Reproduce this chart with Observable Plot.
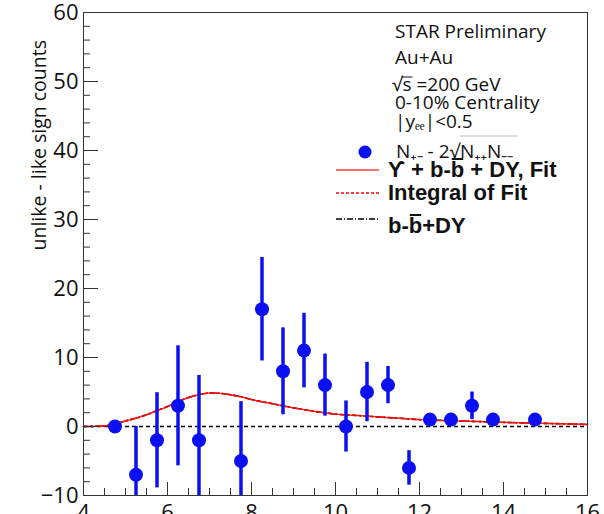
<!DOCTYPE html>
<html><head><meta charset="utf-8">
<script src="https://cdn.jsdelivr.net/npm/d3@7"></script>
<script src="https://cdn.jsdelivr.net/npm/@observablehq/plot@0.6"></script>
<style>body{margin:0;background:#fff} svg{display:block}</style>
</head><body><div id="chart"></div>
<script>
// Data points: invariant mass bin centres, unlike - like sign counts, errors
const massX  = [4.75, 5.25, 5.75, 6.25, 6.75, 7.75, 8.25, 8.75, 9.25, 9.75, 10.25, 10.75, 11.25, 11.75, 12.25, 12.75, 13.25, 13.75, 14.75];
const counts = [0, -7, -2, 3, -2, -5, 17, 8, 11, 6, 0, 5, 6, -6, 1, 1, 3, 1, 1];
const errors = [0.6, 7, 6.9, 8.7, 9.4, 8.6, 7.5, 6.3, 5.4, 4.5, 3.7, 4.3, 2.7, 2.5, 0.6, 0.6, 2, 0.6, 0.6];

// Fit curve (Upsilon + b-bbar + DY) and b-bbar + DY background
const fitMass   = [4, 4.25, 4.5, 4.75, 5, 5.25, 5.5, 5.75, 6, 6.25, 6.5, 6.75, 7, 7.25, 7.5, 7.75, 8, 8.5, 9, 9.5, 10, 10.5, 11, 11.5, 12, 13, 14, 15, 16];
const fitCounts = [0, 0.02, 0.1, 0.35, 0.8, 1.2, 1.7, 2.3, 2.9, 3.6, 4.2, 4.6, 4.85, 4.8, 4.6, 4.3, 3.9, 3.3, 2.7, 2.2, 1.8, 1.6, 1.4, 1.2, 1.0, 0.8, 0.6, 0.45, 0.3];
const bgCounts  = [0, 0.02, 0.1, 0.35, 0.8, 1.2, 1.7, 2.3, 2.9, 3.6, 4.2, 4.6, 4.85, 4.8, 4.6, 4.3, 3.9, 3.3, 2.7, 2.2, 1.8, 1.6, 1.4, 1.2, 1.0, 0.8, 0.6, 0.45, 0.3];

// Axis ticks
const xMajorTicks = [4, 6, 8, 10, 12, 14, 16];
const xMinorTicks = [4.5, 5, 5.5, 6.5, 7, 7.5, 8.5, 9, 9.5, 10.5, 11, 11.5, 12.5, 13, 13.5, 14.5, 15, 15.5];
const yMajorTicks = [-10, 0, 10, 20, 30, 40, 50, 60];
const yMinorTicks = [-8, -6, -4, -2, 2, 4, 6, 8, 12, 14, 16, 18, 22, 24, 26, 28, 32, 34, 36, 38, 42, 44, 46, 48, 52, 54, 56, 58];

const yTitle = "unlike - like sign counts";

const points = massX.map((x, i) => ({x, y: counts[i], lo: counts[i] - errors[i], hi: counts[i] + errors[i]}));
const fit = fitMass.map((x, i) => ({x, y: fitCounts[i]}));
const bg = fitMass.map((x, i) => ({x, y: bgCounts[i]}));

const blue = "#0a10f0";
const chart = Plot.plot({
  width: 604, height: 514,
  marginLeft: 83, marginRight: 17, marginTop: 12, marginBottom: 19,
  style: {fontFamily: "Open Sans", background: "#fff", overflow: "hidden"},
  x: {domain: [4, 16], axis: null},
  y: {domain: [-10, 60], axis: null},
  marks: [
    Plot.ruleY([0], {stroke: "#000", strokeDasharray: "4,3", strokeWidth: 1.3}),
    Plot.line(bg, {x: "x", y: "y", stroke: "#000", strokeWidth: 1.6, strokeDasharray: "5,3,1,3", curve: "monotone-x"}),
    Plot.line(fit, {x: "x", y: "y", stroke: "#ff3030", strokeWidth: 1.3, curve: "monotone-x"}),
    Plot.line(fit, {x: "x", y: "y", stroke: "#ff0000", strokeWidth: 1.6, strokeDasharray: "3,3", curve: "monotone-x"}),
    Plot.ruleX(points, {x: "x", y1: "lo", y2: "hi", stroke: blue, strokeWidth: 3.5, clip: true}),
    Plot.dot(points, {x: "x", y: "y", r: 7, fill: blue, clip: true}),
    Plot.axisY(yMajorTicks, {tickSize: 0, tickPadding: 5, fontSize: 22, fill: "#111", label: null}),
    Plot.axisY(yMajorTicks, {tickSize: -15, fill: "none", stroke: "#333", label: null}),
    Plot.axisY(yMinorTicks, {tickSize: -7, fill: "none", stroke: "#333", label: null}),
    Plot.axisX(xMajorTicks, {tickSize: 0, tickPadding: 9, fontSize: 22, fill: "#111", label: null}),
    Plot.axisX(xMajorTicks, {tickSize: -13, fill: "none", stroke: "#333", label: null}),
    Plot.axisX(xMinorTicks, {tickSize: -7, fill: "none", stroke: "#333", label: null}),
    Plot.frame({stroke: "#333"})
  ]
});
document.getElementById("chart").appendChild(chart);

// Annotations and legend
const svg = d3.select(chart);
svg.append("text").attr("transform", "translate(46,40) rotate(-90)")
  .attr("text-anchor", "end").attr("font-size", 19.5).attr("fill", "#111").text(yTitle);

const g = svg.append("g").attr("font-family", "Open Sans").attr("fill", "#111").attr("text-anchor", "start");
const fs = 19;
g.append("text").attr("x", 395).attr("y", 38).attr("font-size", fs).text("STAR Preliminary");
g.append("text").attr("x", 395).attr("y", 64).attr("font-size", fs).text("Au+Au");
const t3 = g.append("text").attr("x", 392).attr("y", 91).attr("font-size", fs).text("√s =200 GeV");
// overline above the s of √s
const t3n = t3.node();
const sx0 = t3n.getStartPositionOfChar(1).x, sx1 = t3n.getEndPositionOfChar(1).x;
g.append("line").attr("x1", sx0 - 1).attr("x2", sx1 + 1).attr("y1", 77).attr("y2", 77).attr("stroke", "#111").attr("stroke-width", 1);
g.append("text").attr("x", 395).attr("y", 109).attr("font-size", fs).text("0-10% Centrality");
g.append("text").attr("x", 395).attr("y", 128).attr("font-size", fs).text("|yₑₑ|<0.5");

// data legend
g.append("circle").attr("cx", 365).attr("cy", 152).attr("r", 6.5).attr("fill", blue);
const t6 = g.append("text").attr("x", 396).attr("y", 158).attr("font-size", fs).text("N₊₋ - 2√N₊₊N₋₋");
const t6n = t6.node();
const ox0 = t6n.getStartPositionOfChar(8).x, ox1 = t6n.getEndPositionOfChar(13).x;
g.append("line").attr("x1", ox0).attr("x2", ox1 + 4).attr("y1", 136).attr("y2", 136).attr("stroke", "#bbb").attr("stroke-width", 1);

const lg = svg.append("g").attr("font-family", "Liberation Sans").attr("font-weight", "bold").attr("fill", "#111").attr("font-size", 22).attr("text-anchor", "start");
lg.append("line").attr("x1", 336).attr("x2", 379).attr("y1", 170).attr("y2", 170).attr("stroke", "#ff4040").attr("stroke-width", 1.5);
const l1 = lg.append("text").attr("x", 388).attr("y", 177).text("ϒ + b-b + DY, Fit");
const l1n = l1.node();
const b0 = l1n.getStartPositionOfChar(6).x, b1 = l1n.getEndPositionOfChar(6).x;
lg.append("line").attr("x1", b0 + 1).attr("x2", b1 - 1).attr("y1", 159).attr("y2", 159).attr("stroke", "#111").attr("stroke-width", 2);
lg.append("line").attr("x1", 336).attr("x2", 379).attr("y1", 193).attr("y2", 193).attr("stroke", "#ff0000").attr("stroke-width", 1.5).attr("stroke-dasharray", "3,2");
lg.append("text").attr("x", 388).attr("y", 200).text("Integral of Fit");
lg.append("line").attr("x1", 336).attr("x2", 379).attr("y1", 219).attr("y2", 219).attr("stroke", "#000").attr("stroke-width", 1.3).attr("stroke-dasharray", "6,2,1,2");
const l3 = lg.append("text").attr("x", 388).attr("y", 233).text("b-b+DY");
const l3n = l3.node();
const c0 = l3n.getStartPositionOfChar(2).x, c1 = l3n.getEndPositionOfChar(2).x;
lg.append("line").attr("x1", c0 + 1).attr("x2", c1 - 1).attr("y1", 215).attr("y2", 215).attr("stroke", "#111").attr("stroke-width", 2);
</script></body></html>
